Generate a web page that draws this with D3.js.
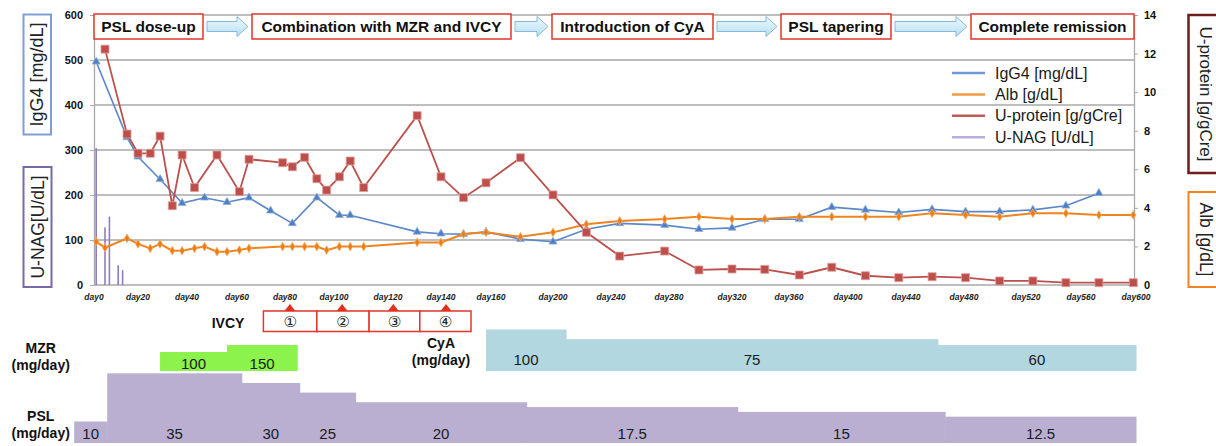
<!DOCTYPE html>
<html>
<head>
<meta charset="utf-8">
<script src="https://cdn.jsdelivr.net/npm/d3@7"></script>
<style>
  body { margin: 0; background: #fff; }
  svg { display: block; font-family: "Liberation Sans", Arial, sans-serif; }
</style>
</head>
<body>
<div class="chart"></div>
<script>
// ---- data ----
var dayTicks = [0, 20, 40, 60, 80, 100, 120, 140, 160, 200, 240, 280, 320, 360, 400, 440, 480, 520, 560, 600];

// IgG4 [mg/dL] (left axis)
var igg4Day = [1, 15, 20, 29, 38, 47, 56, 65, 74, 83, 93, 102, 106, 131, 140, 149, 158, 179, 200, 223, 246, 277, 299, 320, 343, 367, 389, 412, 435, 458, 481, 503, 525, 549, 573];
var igg4 = [496, 328, 285, 235, 182, 194, 184, 194, 165, 137, 194, 155, 155, 118, 114, 113, 118, 102, 96, 124, 137, 133, 124, 127, 146, 146, 173, 167, 161, 168, 163, 163, 167, 176, 204];

// Alb [g/dL] (right axis)
var albDay = [1, 5, 15, 20, 25, 29, 34, 38, 43, 47, 52, 56, 61, 65, 79, 83, 88, 93, 97, 102, 106, 111, 131, 140, 149, 158, 179, 200, 223, 246, 277, 299, 320, 343, 367, 389, 412, 435, 458, 481, 503, 525, 549, 573, 598];
var alb = [2.25, 1.93, 2.42, 2.13, 1.9, 2.13, 1.78, 1.78, 1.9, 1.99, 1.73, 1.73, 1.81, 1.9, 1.99, 1.99, 1.99, 1.99, 1.81, 1.99, 1.99, 1.99, 2.21, 2.21, 2.64, 2.73, 2.5, 2.73, 3.15, 3.32, 3.42, 3.54, 3.42, 3.42, 3.54, 3.54, 3.54, 3.54, 3.72, 3.63, 3.54, 3.72, 3.72, 3.63, 3.63];

// U-protein [g/gCre] (right axis)
var uprotDay = [5, 15, 20, 25, 29, 34, 38, 43, 52, 61, 65, 79, 83, 88, 93, 97, 102, 106, 111, 131, 140, 149, 158, 179, 200, 223, 246, 277, 299, 320, 343, 367, 389, 412, 435, 458, 481, 503, 525, 549, 573, 598];
var uprot = [12.23, 7.83, 6.83, 6.83, 7.72, 4.11, 6.74, 5.05, 6.74, 4.84, 6.52, 6.34, 6.13, 6.62, 5.51, 4.92, 5.61, 6.43, 5.05, 8.78, 5.61, 4.53, 5.3, 6.6, 4.67, 2.73, 1.5, 1.76, 0.78, 0.83, 0.81, 0.52, 0.92, 0.48, 0.38, 0.43, 0.38, 0.21, 0.21, 0.12, 0.12, 0.12];

// U-NAG [U/dL] (left axis, bars)
var unagDay = [1, 5, 7, 11, 13];
var unag = [304, 128, 152, 44, 33];

var phases = ["PSL dose-up", "Combination with MZR and IVCY", "Introduction of CyA", "PSL tapering", "Complete remission"];

var ivcyLabels = ["\u2460", "\u2461", "\u2462", "\u2463"];
var ivcyDay = [82, 103, 122, 142];
var ivcyEdge = [71, 93, 113, 132, 152];

var mzrDose = [100, 150];
var mzrStart = [29, 56];
var mzrEnd = 85;

var cyaDose = [100, 75, 60];
var cyaStart = [158, 209, 462];
var cyaEnd = 600;

var pslDose = [10, 35, 30, 25, 20, 17.5, 15, 12.5];
var pslStart = [-9, 6, 62, 86, 108, 183, 324, 467];
var pslEnd = 600;

// ---- layout ----
var W = 1216, H = 446;
var plot = { left: 94, right: 1134, top: 15, bottom: 285 };
// the day axis in the original is not linear, so the labels sit at these x positions
var tickX = [94, 138, 187, 237, 285, 334, 388, 441, 491, 553, 611, 669, 732, 789, 848, 906, 964, 1026, 1081, 1136];
var phaseBox = [[94, 203], [252, 511], [552, 713], [781, 891], [971, 1134]];

var colors = { igg4: "#5a87c9", alb: "#ee8420", uprot: "#bb504c", unag: "#8f7cc6" };

var svg = d3.select(".chart").append("svg")
  .attr("width", W)
  .attr("height", H);

svg.append("rect").attr("width", W).attr("height", H).attr("fill", "#fff");

var x = d3.scaleLinear().domain(dayTicks).range(tickX);
var yLeft = d3.scaleLinear().domain([0, 600]).range([plot.bottom, plot.top]);
var yRight = d3.scaleLinear().domain([0, 14]).range([plot.bottom, plot.top]);

// gridlines
svg.append("g").selectAll("line")
  .data(yLeft.ticks(6))
  .enter().append("line")
  .attr("x1", plot.left).attr("x2", plot.right)
  .attr("y1", d => yLeft(d)).attr("y2", d => yLeft(d))
  .attr("stroke", "#a9a9a9")
  .attr("stroke-width", 1.3);

// axes
var leftAxis = svg.append("g")
  .attr("transform", `translate(${plot.left},0)`)
  .call(d3.axisLeft(yLeft).ticks(6).tickSize(4).tickPadding(7).tickSizeOuter(0));
var rightAxis = svg.append("g")
  .attr("transform", `translate(${plot.right},0)`)
  .call(d3.axisRight(yRight).ticks(7).tickSize(4).tickPadding(6).tickSizeOuter(0));
[leftAxis, rightAxis].forEach(function(g) {
  g.select(".domain").attr("stroke", "#a9a9a9").attr("stroke-width", 1.3);
  g.selectAll(".tick line").attr("stroke", "#a9a9a9");
  g.selectAll("text").style("font", "bold 11px 'Liberation Sans', Arial, sans-serif").attr("fill", "#111");
});

// x tick labels
svg.append("g").selectAll("text")
  .data(dayTicks)
  .enter().append("text")
  .attr("x", d => x(d))
  .attr("y", 300)
  .attr("text-anchor", "middle")
  .style("font", "italic bold 8.5px 'Liberation Sans', Arial, sans-serif")
  .attr("fill", "#222")
  .text(d => "day" + d);

// U-NAG bars
svg.append("g").selectAll("rect")
  .data(unagDay.map((d, i) => ({ day: d, v: unag[i] })))
  .enter().append("rect")
  .attr("x", d => x(d.day) - 0.8)
  .attr("width", 1.6)
  .attr("y", d => yLeft(d.v))
  .attr("height", d => yLeft(0) - yLeft(d.v))
  .attr("fill", colors.unag);

function drawSeries(days, vals, yScale, color, width, symbol, size, mfill, mstroke) {
  var pts = days.map((d, i) => ({ day: d, v: vals[i] }));
  var line = d3.line().x(d => x(d.day)).y(d => yScale(d.v));
  svg.append("path")
    .datum(pts)
    .attr("fill", "none")
    .attr("stroke", color)
    .attr("stroke-width", width)
    .attr("d", line);
  svg.append("g").selectAll("path")
    .data(pts)
    .enter().append("path")
    .attr("transform", d => `translate(${x(d.day)},${yScale(d.v)})`)
    .attr("d", d3.symbol().type(symbol).size(size))
    .attr("fill", mfill)
    .attr("stroke", mstroke)
    .attr("stroke-width", 0.8);
}

drawSeries(igg4Day, igg4, yLeft, colors.igg4, 1.6, d3.symbolTriangle, 28, "#4f7fc0", "#8fb0e0");
drawSeries(albDay, alb, yRight, colors.alb, 2, d3.symbolDiamond, 22, "#ec7d14", "#f6b06a");
drawSeries(uprotDay, uprot, yRight, colors.uprot, 1.8, d3.symbolSquare, 64, "#bd4f4b", "#e0a09e");

// legend
var legendItems = [
  { name: "IgG4 [mg/dL]", color: "#6f98d6" },
  { name: "Alb [g/dL]", color: "#f29a45" },
  { name: "U-protein [g/gCre]", color: "#bd5a56" },
  { name: "U-NAG [U/dL]", color: "#b7acdb" }
];
var legend = svg.append("g").selectAll("g")
  .data(legendItems)
  .enter().append("g")
  .attr("transform", (d, i) => `translate(952, ${73 + i * 21.4})`);
legend.append("line")
  .attr("x1", 0).attr("x2", 33)
  .attr("stroke", d => d.color)
  .attr("stroke-width", 2.5);
legend.append("text")
  .attr("x", 43)
  .attr("dy", "0.35em")
  .style("font", "16px 'Liberation Sans', Arial, sans-serif")
  .attr("fill", "#1a1a1a")
  .text(d => d.name);

// axis title boxes
function titleBox(x0, y0, w, h, color, sw, label, rot, size) {
  svg.append("rect")
    .attr("x", x0).attr("y", y0).attr("width", w).attr("height", h)
    .attr("fill", "#fff").attr("stroke", color).attr("stroke-width", sw);
  svg.append("text")
    .attr("transform", `translate(${x0 + w / 2},${y0 + h / 2}) rotate(${rot})`)
    .attr("text-anchor", "middle")
    .attr("dominant-baseline", "central")
    .style("font", size + "px 'Liberation Sans', Arial, sans-serif")
    .attr("fill", "#222")
    .text(label);
}
titleBox(23.5, 14.5, 27.5, 120, "#7d9fd6", 2, "IgG4 [mg/dL]", -90, 18);
titleBox(23.5, 167, 28, 120, "#7a68aa", 2, "U-NAG[U/dL]", -90, 17.5);
titleBox(1188.5, 15, 34, 158, "#6e1c1c", 2.5, "U-protein [g/gCre]", 90, 17);
titleBox(1188.5, 192, 34, 95, "#f0841f", 2, "Alb [g/dL]", 90, 17.5);

// phase boxes and arrows
var defs = svg.append("defs");
var grad = defs.append("linearGradient").attr("id", "arrowFill")
  .attr("x1", 0).attr("y1", 0).attr("x2", 0).attr("y2", 1);
grad.append("stop").attr("offset", "0%").attr("stop-color", "#eef9fe");
grad.append("stop").attr("offset", "100%").attr("stop-color", "#b6dff2");

var boxTop = 14, boxH = 25, midY = boxTop + boxH / 2;
phases.forEach(function(p, i) {
  var b = phaseBox[i];
  svg.append("rect")
    .attr("x", b[0]).attr("y", boxTop)
    .attr("width", b[1] - b[0]).attr("height", boxH)
    .attr("fill", "#fff").attr("stroke", "#e2372a").attr("stroke-width", 1.5);
  svg.append("text")
    .attr("x", (b[0] + b[1]) / 2).attr("y", midY)
    .attr("text-anchor", "middle").attr("dominant-baseline", "central")
    .style("font", "bold 15.5px 'Liberation Sans', Arial, sans-serif")
    .attr("fill", "#111")
    .text(p);
  if (i < phases.length - 1) {
    var a0 = b[1] + 4, a1 = phaseBox[i + 1][0] - 4, hx = a1 - 11;
    var pts = [[a0, midY - 5], [hx, midY - 5], [hx, midY - 10], [a1, midY], [hx, midY + 10], [hx, midY + 5], [a0, midY + 5]];
    svg.append("path")
      .attr("d", "M" + pts.join("L") + "Z")
      .attr("fill", "url(#arrowFill)")
      .attr("stroke", "#86b9d8").attr("stroke-width", 1);
  }
});

// ---- treatment section ----
var labelFont = "bold 14px 'Liberation Sans', Arial, sans-serif";
function twoLine(cx, y1, a, b) {
  [a, b].forEach(function(t, k) {
    svg.append("text")
      .attr("x", cx).attr("y", y1 + k * 17)
      .attr("text-anchor", "middle").attr("dominant-baseline", "central")
      .style("font", labelFont).attr("fill", "#111")
      .text(t);
  });
}

// IVCY
svg.append("text")
  .attr("x", 228).attr("y", 323)
  .attr("text-anchor", "middle").attr("dominant-baseline", "central")
  .style("font", labelFont).attr("fill", "#111")
  .text("IVCY");
var ivcy = svg.append("g").selectAll("g")
  .data(ivcyLabels.map((l, i) => ({ label: l, day: ivcyDay[i], a: ivcyEdge[i], b: ivcyEdge[i + 1] })))
  .enter().append("g");
ivcy.append("rect")
  .attr("x", d => x(d.a)).attr("y", 311)
  .attr("width", d => x(d.b) - x(d.a)).attr("height", 20.5)
  .attr("fill", "#fff").attr("stroke", "#e2372a").attr("stroke-width", 1.5);
ivcy.append("text")
  .attr("x", d => (x(d.a) + x(d.b)) / 2).attr("y", 322)
  .attr("text-anchor", "middle").attr("dominant-baseline", "central")
  .style("font", "15px 'DejaVu Sans', sans-serif").attr("fill", "#222")
  .text(d => d.label);
ivcy.append("path")
  .attr("d", d => `M${x(d.day) - 5.5},311L${x(d.day)},304L${x(d.day) + 5.5},311Z`)
  .attr("fill", "#e2301f");

function steps(starts, doses, end) {
  return doses.map((v, i) => ({ v: v, a: starts[i], b: i < doses.length - 1 ? starts[i + 1] : end }));
}
function drawSteps(data, yScale, base, color, labelY) {
  var g = svg.append("g");
  g.selectAll("rect")
    .data(data)
    .enter().append("rect")
    .attr("x", d => x(d.a))
    .attr("width", d => x(d.b) - x(d.a) + 0.5)
    .attr("y", d => yScale(d.v))
    .attr("height", d => base - yScale(d.v))
    .attr("fill", color);
  g.selectAll("text")
    .data(data)
    .enter().append("text")
    .attr("x", d => (x(d.a) + x(d.b)) / 2)
    .attr("y", labelY)
    .attr("text-anchor", "middle").attr("dominant-baseline", "central")
    .style("font", "15px 'Liberation Sans', Arial, sans-serif")
    .attr("fill", "#1a1a1a")
    .text(d => d.v);
}

// MZR
twoLine(40.7, 348, "MZR", "(mg/day)");
var yMzr = d3.scaleLinear().domain([0, 150]).range([366, 345]);
drawSteps(steps(mzrStart, mzrDose, mzrEnd), yMzr, 371, "#8cf24c", 363);

// CyA
twoLine(441, 343, "CyA", "(mg/day)");
var yCya = d3.scaleLinear().domain([0, 100]).range([368.2, 329.5]);
drawSteps(steps(cyaStart, cyaDose, cyaEnd), yCya, 371, "#b2d7e1", 359);

// PSL
twoLine(40.7, 415.5, "PSL", "(mg/day)");
var yPsl = d3.scaleLinear().domain([0, 35]).range([440.8, 373.3]);
drawSteps(steps(pslStart, pslDose, pslEnd), yPsl, 443, "#baafd0", 433);
</script>
</body>
</html>
